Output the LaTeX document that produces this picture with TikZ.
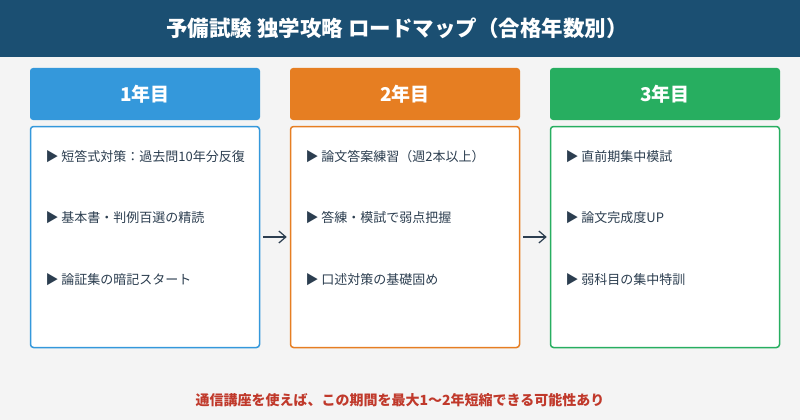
\documentclass[tikz,border=0pt]{standalone}
\usepackage{fontspec}
\setmainfont{Noto Sans CJK JP}
\usetikzlibrary{arrows.meta}
\definecolor{bg}{HTML}{F4F4F4}
\definecolor{titlebg}{HTML}{1B4F72}
\definecolor{c1}{HTML}{3498DB}
\definecolor{c2}{HTML}{E67E22}
\definecolor{c3}{HTML}{27AE60}
\definecolor{txt}{HTML}{2C3E50}
\definecolor{note}{HTML}{C0392B}
\tikzset{
 hdr/.style={fill=#1, rounded corners=3pt, minimum width=230pt, minimum height=52pt, inner sep=0pt, text=white, font=\fontsize{19}{22}\selectfont\bfseries},
 box/.style={draw=#1, line width=1.5pt, fill=white, rounded corners=3pt, minimum width=229pt, minimum height=221pt, inner sep=0pt},
 item/.style={anchor=west, text=txt, font=\fontsize{13}{15}\selectfont},
 conn/.style={-{Straight Barb[length=7pt,width=12pt]}, line width=1.2pt, draw=txt, shorten >=3pt, shorten <=3pt}
}
\begin{document}
\begin{tikzpicture}[x=1pt,y=-1pt]
\fill[bg] (0,0) rectangle (800,420);
\useasboundingbox (0,0) rectangle (800,420);
\fill[titlebg] (0,0) rectangle (800,57);
\node[text=white, font=\fontsize{21.5}{25}\selectfont\bfseries] (title) at (397,28) {予備試験 独学攻略 ロードマップ（合格年数別）};
\foreach \i/\x/\c/\h in {1/145/c1/1年目, 2/405/c2/2年目, 3/665/c3/3年目}{
  \node[hdr=\c] (h\i) at (\x,94) {\h};
  \node[box=\c] (b\i) at (\x,237) {};
}
\node[item] (a1) at (42,157) {▶ 短答式対策：過去問10年分反復};
\node[item] (a2) at (42,218) {▶ 基本書・判例百選の精読};
\node[item] (a3) at (42,280) {▶ 論証集の暗記スタート};
\node[item] (b1i) at (302,157) {▶ 論文答案練習（週2本以上）};
\node[item] (b2i) at (302,218) {▶ 答練・模試で弱点把握};
\node[item] (b3i) at (302,280) {▶ 口述対策の基礎固め};
\node[item] (c1i) at (562,157) {▶ 直前期集中模試};
\node[item] (c2i) at (562,218) {▶ 論文完成度UP};
\node[item] (c3i) at (562,280) {▶ 弱科目の集中特訓};
\draw[conn] (b1.east) -- (b2.west);
\draw[conn] (b2.east) -- (b3.west);
\node[text=note, font=\fontsize{14}{16}\selectfont\bfseries] (n) at (400,400) {通信講座を使えば、この期間を最大1〜2年短縮できる可能性あり};
\end{tikzpicture}
\end{document}
